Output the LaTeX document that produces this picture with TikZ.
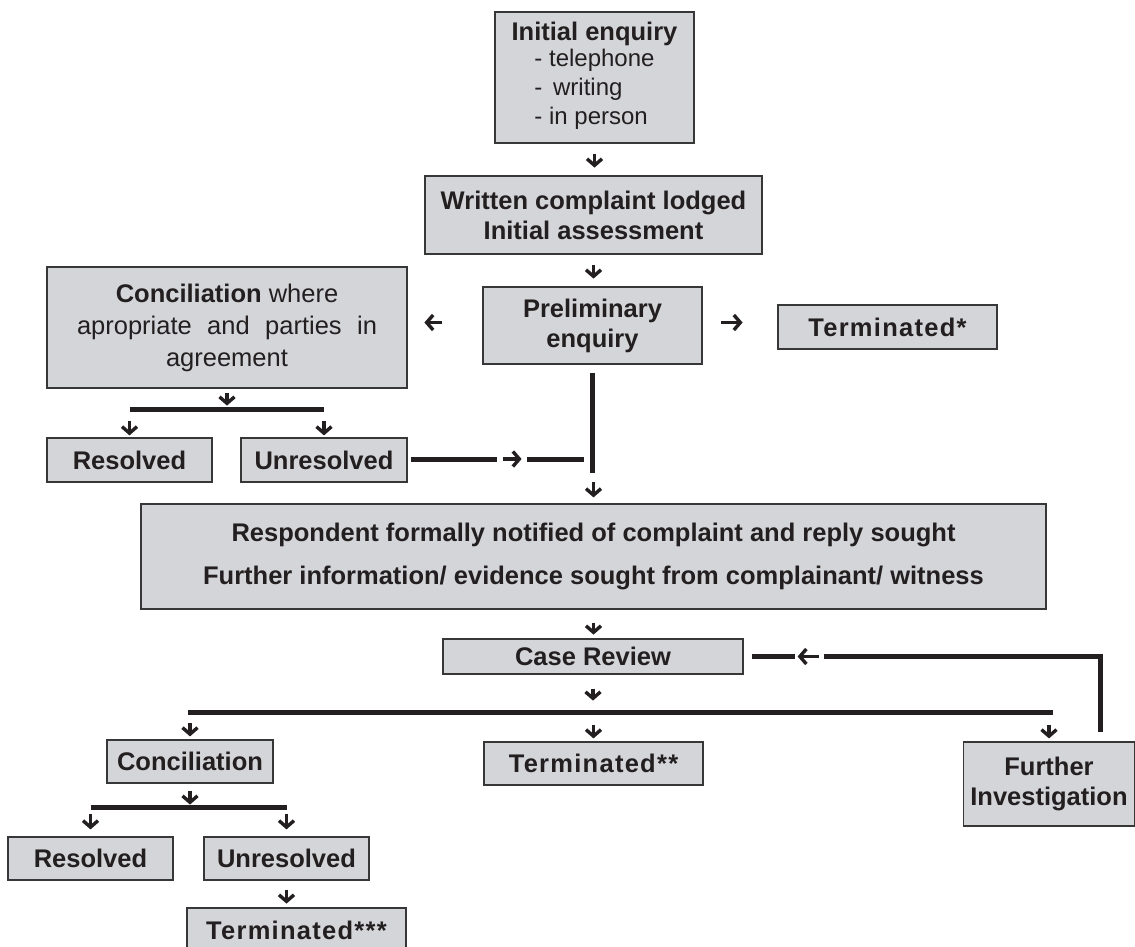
\documentclass[tikz,border=0pt]{standalone}
\usepackage{fontspec}
\setmainfont{Liberation Sans}
\usetikzlibrary{arrows.meta,calc}
\definecolor{boxfill}{RGB}{212,213,216}
\definecolor{boxline}{RGB}{55,55,55}
\definecolor{ink}{RGB}{35,31,32}
\tikzset{%
	process/.style = {draw=boxline, fill=boxfill, line width=1.2pt, inner sep=0pt, align=center, text=ink, font=\fontsize{25.5}{30}\selectfont\bfseries},
	ended/.style   = {process, font=\fontsize{25.5}{30}\selectfont\bfseries\addfontfeature{LetterSpace=5}},
	arrow/.style   = {draw=ink, line width=3.2pt, -{Straight Barb[length=6.5pt,width=15pt,line width=3.4pt]}},
	bar/.style     = {draw=ink, line width=5pt},
}
\begin{document}
\begin{tikzpicture}[x=1pt,y=-1pt]
	\path[use as bounding box, clip] (0,0) rectangle (1135,947);
	% boxes
	\node[process, minimum width=199pt, minimum height=131pt] (init) at (594.5,77.5) {Initial enquiry\\[-1pt]
		{\mdseries\fontsize{24}{29}\selectfont\begin{tabular}{@{}l@{}}- telephone\\- \,writing\\- in person\end{tabular}}};
	\node[process, minimum width=337pt, minimum height=78pt] (written) at (593.5,215) {Written complaint lodged\\Initial assessment};
	\node[process, minimum width=219pt, minimum height=77pt] (prelim) at (592.5,325.5) {Preliminary\\enquiry};
	\node[process, minimum width=360pt, minimum height=121pt, font=\fontsize{25.5}{32}\selectfont] (concil1) at (227,327.5) {\textbf{Conciliation} where\\\makebox[300pt][s]{apropriate and parties in}\\agreement};
	\node[ended, minimum width=219pt, minimum height=44pt] (term1) at (887.5,327) {Terminated*};
	\node[process, minimum width=165pt, minimum height=44pt] (res1) at (129.5,460) {Resolved};
	\node[process, minimum width=166pt, minimum height=44pt] (unres1) at (324,460) {Unresolved};
	\node[process, minimum width=905pt, minimum height=105pt] (resp) at (593.5,556.5) {Respondent formally notified of complaint and reply sought\\[13pt]Further information/ evidence sought from complainant/ witness};
	\node[process, minimum width=300pt, minimum height=35pt] (review) at (593,656.5) {Case Review};
	\node[process, minimum width=166pt, minimum height=43pt] (concil2) at (190,761.5) {Conciliation};
	\node[ended, minimum width=219pt, minimum height=43pt] (term2) at (593.5,763.5) {Terminated**};
	\node[process, minimum width=171pt, minimum height=84pt] (further) at (1049,784) {Further\\Investigation};
	\node[process, minimum width=165pt, minimum height=43pt] (res2) at (90.5,858.5) {Resolved};
	\node[process, minimum width=165pt, minimum height=43pt] (unres2) at (286.5,858.5) {Unresolved};
	\node[ended, minimum width=219pt, minimum height=44pt] (term3) at (296.5,930) {Terminated***};
	% upper part
	\draw[arrow] ([yshift=-10pt]init.south) -- ++(0,14);
	\draw[arrow] ([yshift=-10pt]written.south) -- ++(0,14);
	\draw[arrow] ([xshift=-40pt,yshift=3pt]prelim.west) -- ++(-18,0);
	\draw[arrow] ([xshift=18pt,yshift=3pt]prelim.east) -- ++(22,0);
	\draw[arrow] ([yshift=-4pt]concil1.south) -- ++(0,13);
	\draw[bar] ([yshift=28pt]res1.north) -- ([yshift=28pt]unres1.north);
	\draw[arrow] ([yshift=16pt]res1.north) -- ++(0,14);
	\draw[arrow] ([yshift=16pt]unres1.north) -- ++(0,14);
	\draw[bar] ([xshift=3pt,yshift=1pt]unres1.east) -- ++(86,0);
	\draw[arrow] ([xshift=95pt,yshift=1pt]unres1.east) -- ++(19,0);
	\draw[bar] ([xshift=119pt,yshift=1pt]unres1.east) -- ++(57,0);
	\draw[bar] ([yshift=-8pt]prelim.south) -- ++(0,100);
	\draw[arrow] ([yshift=21pt]resp.north) -- ++(0,15);
	% case review
	\draw[arrow] ([yshift=-13pt]resp.south) -- ++(0,12);
	\draw[arrow] ([yshift=-14pt]review.south) -- ++(0,12);
	\coordinate (split) at (594,712);
	\draw[bar] ([xshift=-2pt]split -| concil2) -- ([xshift=4pt]split -| further);
	\draw[arrow] ([yshift=16pt]concil2.north) -- ++(0,13);
	\draw[arrow] ([yshift=16pt]term2.north) -- ++(0,13);
	\draw[arrow] ([yshift=16pt]further.north) -- ++(0,13);
	\draw[bar] ([xshift=-35pt,yshift=9pt]further.north east) |- ([xshift=80pt]review.east);
	\draw[arrow] ([xshift=75pt]review.east) -- ++(-21,0);
	\draw[bar] ([xshift=51pt]review.east) -- ++(-43,0);
	% lower part
	\draw[arrow] ([yshift=-7pt]concil2.south) -- ++(0,14);
	\draw[bar] ([yshift=29pt]res2.north) -- ([yshift=29pt]unres2.north);
	\draw[arrow] ([yshift=22pt]res2.north) -- ++(0,15);
	\draw[arrow] ([yshift=22pt]unres2.north) -- ++(0,15);
	\draw[arrow] ([yshift=-9pt]unres2.south) -- ++(0,14);
\end{tikzpicture}
\end{document}
